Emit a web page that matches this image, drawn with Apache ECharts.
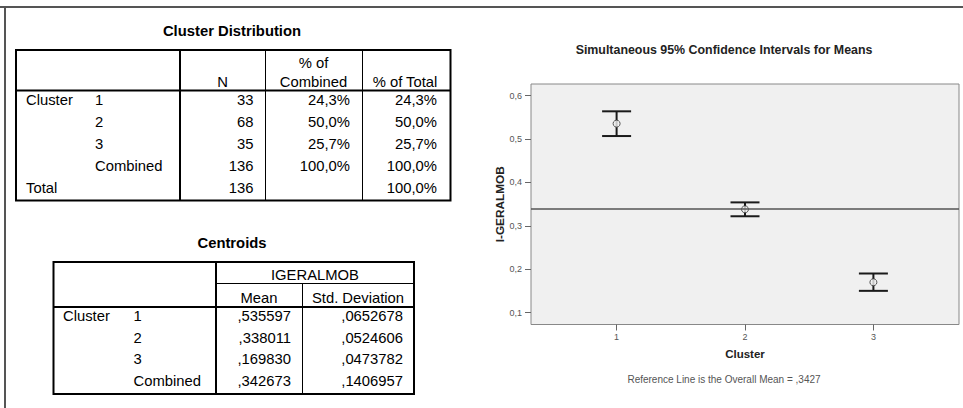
<!DOCTYPE html>
<html>
<head>
<meta charset="utf-8">
<script src="https://cdn.jsdelivr.net/npm/echarts@6/dist/echarts.min.js"></script>
<style>
html,body{margin:0;padding:0;background:#fff;}
#chart{width:963px;height:408px;}
</style>
</head>
<body>
<div id="chart"></div>
<script>
// ---- Data ----
var clusters = [1, 2, 3];
var clusterLabels = ['1', '2', '3'];
var means = [0.535597, 0.338011, 0.169830];
var ciLow = [0.507, 0.322, 0.150];
var ciHigh = [0.564, 0.354, 0.190];
var overallMean = 0.342673;
var yTicks = [0.1, 0.2, 0.3, 0.4, 0.5, 0.6];

var distHeaders = ['N', ['% of', 'Combined'], '% of Total'];
var distRowMain = ['Cluster', '', '', '', 'Total'];
var distRowSub = ['1', '2', '3', 'Combined', ''];
var distN = ['33', '68', '35', '136', '136'];
var distPctCombined = ['24,3%', '50,0%', '25,7%', '100,0%', ''];
var distPctTotal = ['24,3%', '50,0%', '25,7%', '100,0%', '100,0%'];

var centVar = 'IGERALMOB';
var centHeaders = ['Mean', 'Std. Deviation'];
var centRowMain = ['Cluster', '', '', ''];
var centRowSub = ['1', '2', '3', 'Combined'];
var centMean = [',535597', ',338011', ',169830', ',342673'];
var centStd = [',0652678', ',0524606', ',0473782', ',1406957'];

// ---- Rendering ----
var FONT = '"Liberation Sans", Arial, sans-serif';
var TF = '14.8px ' + FONT;
var g = [];
function txt(t, x, y, align, font, color) {
  g.push({type: 'text', silent: true, style: {text: t, x: x, y: y, textAlign: align || 'left',
    textVerticalAlign: 'middle', font: font || TF, fill: color || '#000'}});
}
function ln(x1, y1, x2, y2, w, c) {
  g.push({type: 'line', silent: true, shape: {x1: x1, y1: y1, x2: x2, y2: y2},
    style: {stroke: c || '#000', lineWidth: w || 1}});
}

// frame
ln(0, 7, 963, 7, 2, '#555');
ln(5, 7, 5, 408, 2, '#555');

// Table 1: Cluster Distribution
txt('Cluster Distribution', 232, 31, 'center', 'bold 14.8px ' + FONT);
var t1 = {l: 16, t: 50, r: 450.5, b: 200.5, hb: 90.5, c1: 180, c2: 265, c3: 362};
ln(t1.c2 + 0.5, t1.t, t1.c2 + 0.5, t1.b, 1);
ln(t1.c3 + 0.5, t1.t, t1.c3 + 0.5, t1.b, 1);
ln(t1.c1, t1.t, t1.c1, t1.b, 2);
ln(t1.l, t1.hb, t1.r, t1.hb, 2);
g.push({type: 'rect', silent: true, shape: {x: t1.l, y: t1.t, width: t1.r - t1.l, height: t1.b - t1.t},
  style: {fill: 'none', stroke: '#000', lineWidth: 2}});
txt(distHeaders[0], 222.5, 82, 'center');
txt(distHeaders[1][0], 313.5, 63, 'center');
txt(distHeaders[1][1], 313.5, 82, 'center');
txt(distHeaders[2], 405, 82, 'center');
var r1y = [100, 122, 144, 166, 188];
for (var i = 0; i < r1y.length; i++) {
  if (distRowMain[i]) txt(distRowMain[i], 26, r1y[i]);
  if (distRowSub[i]) txt(distRowSub[i], 95, r1y[i]);
  txt(distN[i], 253.5, r1y[i], 'right');
  if (distPctCombined[i]) txt(distPctCombined[i], 350, r1y[i], 'right');
  txt(distPctTotal[i], 437, r1y[i], 'right');
}

// Table 2: Centroids
txt('Centroids', 232, 242.5, 'center', 'bold 14.8px ' + FONT);
var t2 = {l: 53.5, t: 262, r: 414, b: 394, h1: 283.5, hb: 307, c1: 216, c2: 302.5};
ln(t2.c1, t2.h1, t2.r, t2.h1, 1);
ln(t2.c2, t2.h1, t2.c2, t2.b, 1);
ln(t2.c1, t2.t, t2.c1, t2.b, 2);
ln(t2.l, t2.hb, t2.r, t2.hb, 2);
g.push({type: 'rect', silent: true, shape: {x: t2.l, y: t2.t, width: t2.r - t2.l, height: t2.b - t2.t},
  style: {fill: 'none', stroke: '#000', lineWidth: 2}});
txt(centVar, 315, 275, 'center');
txt(centHeaders[0], 259, 298, 'center');
txt(centHeaders[1], 358, 298, 'center');
var r2y = [316, 337.5, 359, 380.5];
for (var j = 0; j < r2y.length; j++) {
  if (centRowMain[j]) txt(centRowMain[j], 63, r2y[j]);
  txt(centRowSub[j], 133.5, r2y[j]);
  txt(centMean[j], 291, r2y[j], 'right');
  txt(centStd[j], 403, r2y[j], 'right');
}

// reference line caption
txt('Reference Line is the Overall Mean = ' + ',' + overallMean.toFixed(4).split('.')[1],
  724, 379, 'center', '10px ' + FONT, '#555');

function fmt(v) { return String(Math.round(v * 10) / 10).replace('.', ','); }

var ciData = clusters.map(function (c, k) { return [c, ciLow[k], ciHigh[k]]; });
var meanData = clusters.map(function (c, k) { return [c, means[k]]; });

var chart = echarts.init(document.getElementById('chart'), null, {renderer: 'svg'});
chart.setOption({
  animation: false,
  backgroundColor: '#fff',
  title: {
    text: 'Simultaneous 95% Confidence Intervals for Means',
    left: 724, top: 44, textAlign: 'center', padding: 0,
    textStyle: {fontFamily: FONT, fontSize: 12.4, fontWeight: 'bold', color: '#222'}
  },
  grid: {left: 531, top: 84, right: 4, bottom: 83.5, show: true,
    backgroundColor: '#f0f0f0', borderColor: '#888', borderWidth: 1},
  xAxis: {
    type: 'value', min: 1 / 3, max: 11 / 3,
    name: 'Cluster', nameLocation: 'middle', nameGap: 23,
    nameTextStyle: {fontFamily: FONT, fontSize: 11.5, fontWeight: 'bold', color: '#222'},
    axisLine: {show: false},
    splitLine: {show: false},
    axisTick: {show: true, length: 6, customValues: clusters, lineStyle: {color: '#666'}},
    axisLabel: {customValues: clusters, margin: 8, fontFamily: FONT, fontSize: 9, color: '#555',
      formatter: function (v) { return clusterLabels[clusters.indexOf(Math.round(v))]; }}
  },
  yAxis: {
    type: 'value', min: 0.0724, max: 0.627,
    name: 'I-GERALMOB', nameLocation: 'middle', nameGap: 25,
    nameTextStyle: {fontFamily: FONT, fontSize: 11.8, fontWeight: 'bold', color: '#222'},
    axisLine: {show: false},
    splitLine: {show: false},
    axisTick: {show: true, length: 6, customValues: yTicks, lineStyle: {color: '#666'}},
    axisLabel: {customValues: yTicks, margin: 9, fontFamily: FONT, fontSize: 9, color: '#555',
      formatter: fmt}
  },
  graphic: {elements: g},
  series: [
    {
      type: 'custom', data: ciData, silent: true, z: 3,
      renderItem: function (params, api) {
        var x = api.value(0);
        var pLo = api.coord([x, api.value(1)]);
        var pHi = api.coord([x, api.value(2)]);
        var hw = 14.5, st = {stroke: '#1a1a1a', lineWidth: 2};
        return {type: 'group', children: [
          {type: 'line', shape: {x1: pLo[0], y1: pLo[1], x2: pHi[0], y2: pHi[1]}, style: st},
          {type: 'line', shape: {x1: pHi[0] - hw, y1: pHi[1], x2: pHi[0] + hw, y2: pHi[1]}, style: st},
          {type: 'line', shape: {x1: pLo[0] - hw, y1: pLo[1], x2: pLo[0] + hw, y2: pLo[1]}, style: st}
        ]};
      }
    },
    {
      type: 'scatter', data: meanData, symbol: 'circle', symbolSize: 7, silent: true, z: 4,
      itemStyle: {color: '#f0f0f0', borderColor: '#333', borderWidth: 1},
      markLine: {
        silent: true, symbol: ['none', 'none'], label: {show: false},
        lineStyle: {color: '#555', width: 1.5, type: 'solid'},
        data: [{yAxis: overallMean}]
      }
    }
  ]
});
</script>
</body>
</html>
